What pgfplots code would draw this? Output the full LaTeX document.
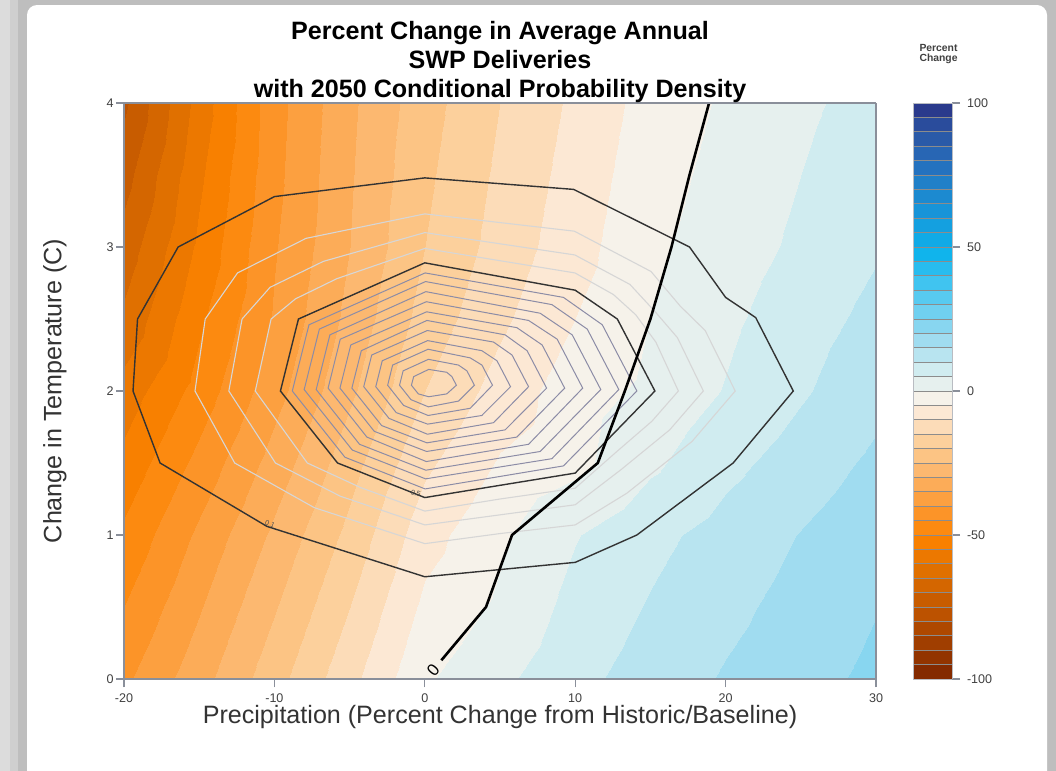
\documentclass[border=0pt]{standalone}
\usepackage{fontspec}
\setmainfont{Liberation Sans}
\usepackage{pgfplots}
\pgfplotsset{compat=1.18}

\definecolor{frameA}{HTML}{DCDCDC}
\definecolor{frameB}{HTML}{CFCFCF}
\definecolor{frameC}{HTML}{BEBEBE}
\definecolor{axisgray}{HTML}{8A8F9A}
\definecolor{ticktext}{HTML}{404040}
\definecolor{dens}{HTML}{8C8CA6}
\definecolor{densout}{HTML}{D6D6D6}

% one colour per 5 % band, from -100 up to 100
\pgfplotsset{
  colormap={swp}{
    rgb255(0)=(132,42,0) rgb255(1)=(146,52,0) rgb255(2)=(160,62,0) rgb255(3)=(174,72,0)
    rgb255(4)=(188,82,0) rgb255(5)=(200,92,0) rgb255(6)=(212,102,0) rgb255(7)=(224,112,0)
    rgb255(8)=(236,120,0) rgb255(9)=(248,128,0) rgb255(10)=(252,138,16) rgb255(11)=(252,148,40)
    rgb255(12)=(252,160,64) rgb255(13)=(252,172,88) rgb255(14)=(252,184,112) rgb255(15)=(252,196,132)
    rgb255(16)=(252,208,156) rgb255(17)=(252,220,184) rgb255(18)=(252,232,212) rgb255(19)=(246,242,234)
    rgb255(20)=(230,240,238) rgb255(21)=(208,236,240) rgb255(22)=(184,228,240) rgb255(23)=(160,220,240)
    rgb255(24)=(136,214,240) rgb255(25)=(112,208,240) rgb255(26)=(88,202,240) rgb255(27)=(64,196,240)
    rgb255(28)=(40,188,238) rgb255(29)=(16,180,236) rgb255(30)=(16,170,230) rgb255(31)=(20,160,224)
    rgb255(32)=(24,148,216) rgb255(33)=(28,138,208) rgb255(34)=(32,128,200) rgb255(35)=(36,114,191)
    rgb255(36)=(40,102,180) rgb255(37)=(42,90,168) rgb255(38)=(42,76,156) rgb255(39)=(42,58,140)
    rgb255(40)=(42,58,140)
  },
}

\begin{document}
\begin{tikzpicture}
\useasboundingbox (0,0) rectangle (528bp,-385.5bp);
\begin{scope}
\clip (0,0) rectangle (528bp,-385.5bp);
\fill[frameA] (0,0) rectangle (528bp,-385.5bp);
\fill[frameB] (5bp,0) rectangle (528bp,-385.5bp);
\fill[frameC] (9bp,0) rectangle (528bp,-385.5bp);
\fill[white, rounded corners=5bp] (13.5bp,-2.5bp) rectangle (523.5bp,-400bp);
\end{scope}

\begin{axis}[
  at={(62bp,-339.5bp)}, anchor=south west,
  scale only axis, width=376bp, height=288bp,
  view={0}{90},
  xmin=-20, xmax=30, ymin=0, ymax=4,
  xtick={-20,-10,0,10,20,30}, ytick={0,1,2,3,4},
  tick align=outside, xtick pos=left, ytick pos=left,
  major tick length=4bp,
  axis line style={axisgray, line width=0.6bp},
  major tick style={axisgray, line width=0.6bp},
  tick label style={font=\fontsize{6.3}{7}\selectfont, text=ticktext},
  yticklabel style={inner sep=1bp},
  /pgf/number format/assume math mode=true,
  xlabel={Precipitation (Percent Change from Historic/Baseline)},
  ylabel={Change in Temperature (C)},
  label style={font=\fontsize{12.6}{14}\selectfont, text=black!80},
  xlabel style={at={(axis description cs:0.5,-0.066)}, anchor=center},
  ylabel style={at={(axis description cs:-0.0918,0.5)}, anchor=center},
  title={Percent Change in Average Annual\\SWP Deliveries\\with 2050 Conditional Probability Density},
  title style={font=\bfseries\fontsize{12.6}{14.5}\selectfont, align=center, at={(0.5,1)}, anchor=south, yshift=-9.3bp},
  colormap name=swp, colormap access=piecewise constant,
  point meta min=-100, point meta max=100,
  colorbar,
  colorbar style={
    at={(parent axis.north east)}, anchor=north west, xshift=10bp,
    width=19.5bp,
    ytick={-100,-50,0,50,100},
    minor ytick={-95,-90,...,95},
    yminorgrids=true,
    minor grid style={black!45, line width=0.35bp},
    minor tick length=0pt,
    major tick length=4bp,
    tick align=outside,
    ytick pos=right,
    yticklabel pos=right,
    axis line style={axisgray!60, line width=0.4bp},
    major tick style={axisgray, line width=0.6bp},
    yticklabel style={font=\fontsize{6.3}{7}\selectfont, text=ticktext},
    /pgf/number format/assume math mode=true,
    title={Percent\\Change},
    title style={font=\bfseries\fontsize{5.2}{5.2}\selectfont, text=black!75, align=center, at={(0.5,1)}, anchor=south, yshift=10.2bp, xshift=3bp},
  },
]
\addplot3[surf, shader=interp] table {
x y z
-20 0 -41
-15 0 -32
-10 0 -22
-5 0 -11.5
0 0 -0.6
5 0 3.9
10 0 8.6
15 0 12.2
20 0 15.5
25 0 18.3
30 0 21.1

-20 0.5 -45
-15 0.5 -35.5
-10 0.5 -25.5
-5 0.5 -15
0 0.5 -3.8
5 0.5 0.9
10 0.5 6.6
15 0.5 10.4
20 0.5 13.7
25 0.5 16.8
30 0.5 19.8

-20 1 -49
-15 1 -39
-10 1 -29
-5 1 -18.5
0 1 -7
5 1 -0.9
10 1 4.7
15 1 8.6
20 1 11.9
25 1 15.2
30 1 18.5

-20 1.5 -53.5
-15 1.5 -43.5
-10 1.5 -33
-5 1.5 -22
0 1.5 -11
5 1.5 -4.5
10 1.5 -1.4
15 1.5 4
20 1.5 8.6
25 1.5 12.3
30 1.5 16

-20 2 -58
-15 2 -48
-10 2 -37
-5 2 -26
0 2 -15
5 2 -8
10 2 -2.3
15 2 1.1
20 2 5.3
25 2 9.4
30 2 13.4

-20 2.5 -64
-15 2.5 -51
-10 2.5 -39.5
-5 2.5 -28.5
0 2.5 -18
5 2.5 -11
10 2.5 -5
15 2.5 0
20 2.5 4
25 2.5 7.8
30 2.5 11.4

-20 3 -68
-15 3 -54
-10 3 -40.5
-5 3 -30
0 3 -20
5 3 -13
10 3 -7
15 3 -1
20 3 2.5
25 3 6
30 3 9.5

-20 3.5 -72
-15 3.5 -56
-10 3.5 -41.5
-5 3.5 -30.5
0 3.5 -21
5 3.5 -14
10 3.5 -8
15 3.5 -2
20 3.5 1.6
25 3.5 5
30 3.5 8.2

-20 4 -76
-15 4 -58
-10 4 -42
-5 4 -31
0 4 -22
5 4 -15
10 4 -9
15 4 -3
20 4 0.7
25 4 4
30 4 7
};
% density contours between the two labelled ones
\addplot3[densout, line width=0.55bp] coordinates {
(0,1.166,0) (5,1.25,0) (10,1.325,0) (12.77,1.58,0) (15.1,1.79,0) (16.86,2.0,0) (15.36,2.34,0)
(14.02,2.53,0) (12.54,2.67,0) (9.98,2.82,0) (0,2.99,0) (-5.85,2.78,0) (-8.6,2.64,0) (-10.22,2.5,0)
(-11.27,2.0,0) (-7.81,1.5,0) (-4.28,1.33,0) (0,1.166,0)
};
\addplot3[densout, line width=0.55bp] coordinates {
(0,1.07,0) (5,1.14,0) (10,1.21,0) (13.06,1.455,0) (16.28,1.73,0) (18.52,2.0,0) (16.8,2.37,0)
(15.32,2.55,0) (13.64,2.74,0) (9.97,2.945,0) (0,3.10,0) (-6.75,2.90,0) (-10.29,2.72,0) (-12.15,2.5,0)
(-13.03,2.0,0) (-9.93,1.5,0) (-5.63,1.27,0) (0,1.07,0)
};
\addplot3[densout, line width=0.55bp] coordinates {
(0,0.94,0) (5,1.01,0) (10,1.07,0) (13.43,1.29,0) (17.77,1.65,0) (20.64,2.0,0) (18.64,2.42,0)
(16.98,2.59,0) (15.04,2.83,0) (9.94,3.11,0) (0,3.23,0) (-7.9,3.06,0) (-12.45,2.82,0) (-14.6,2.5,0)
(-15.28,2.0,0) (-12.64,1.5,0) (-7.35,1.19,0) (0,0.94,0)
};
% density contours inside the inner labelled one
\addplot3[dens, line width=0.5bp] coordinates {
(0.02,1.32,0) (9.22,1.48,0) (14.1,2.0,0) (11.8,2.46,0) (9.22,2.65,0) (0.02,2.82,0) (-7.7,2.46,0) (-8.81,2.0,0) (-5.31,1.54,0) (0.02,1.32,0)
};
\addplot3[dens, line width=0.5bp] coordinates {
(0.05,1.39,0) (8.45,1.53,0) (12.9,2.01,0) (10.8,2.43,0) (8.45,2.60,0) (0.05,2.76,0) (-7.01,2.43,0) (-8.02,2.01,0) (-4.82,1.59,0) (0.05,1.39,0)
};
\addplot3[dens, line width=0.5bp] coordinates {
(0.07,1.45,0) (7.67,1.58,0) (11.7,2.01,0) (9.8,2.39,0) (7.67,2.54,0) (0.07,2.69,0) (-6.31,2.39,0) (-7.22,2.01,0) (-4.34,1.63,0) (0.07,1.45,0)
};
\addplot3[dens, line width=0.5bp] coordinates {
(0.1,1.51,0) (6.9,1.63,0) (10.5,2.02,0) (8.8,2.36,0) (6.9,2.49,0) (0.1,2.62,0) (-5.62,2.36,0) (-6.43,2.02,0) (-3.85,1.68,0) (0.1,1.51,0)
};
\addplot3[dens, line width=0.5bp] coordinates {
(0.12,1.58,0) (6.12,1.68,0) (9.3,2.02,0) (7.8,2.32,0) (6.12,2.44,0) (0.12,2.55,0) (-4.92,2.32,0) (-5.64,2.02,0) (-3.36,1.72,0) (0.12,1.58,0)
};
\addplot3[dens, line width=0.5bp] coordinates {
(0.14,1.64,0) (5.34,1.73,0) (8.1,2.02,0) (6.8,2.28,0) (5.34,2.39,0) (0.14,2.49,0) (-4.22,2.28,0) (-4.85,2.02,0) (-2.87,1.76,0) (0.14,1.64,0)
};
\addplot3[dens, line width=0.5bp] coordinates {
(0.17,1.70,0) (4.57,1.78,0) (6.9,2.03,0) (5.8,2.25,0) (4.57,2.34,0) (0.17,2.42,0) (-3.53,2.25,0) (-4.06,2.03,0) (-2.38,1.81,0) (0.17,1.70,0)
};
\addplot3[dens, line width=0.5bp] coordinates {
(0.19,1.77,0) (3.79,1.83,0) (5.7,2.03,0) (4.8,2.21,0) (3.79,2.28,0) (0.19,2.35,0) (-2.83,2.21,0) (-3.26,2.03,0) (-1.9,1.85,0) (0.19,1.77,0)
};
\addplot3[dens, line width=0.5bp] coordinates {
(0.22,1.83,0) (3.02,1.88,0) (4.5,2.04,0) (3.8,2.18,0) (3.02,2.23,0) (0.22,2.29,0) (-2.14,2.18,0) (-2.47,2.04,0) (-1.41,1.90,0) (0.22,1.83,0)
};
\addplot3[dens, line width=0.5bp] coordinates {
(0.24,1.89,0) (2.24,1.93,0) (3.3,2.04,0) (2.8,2.14,0) (2.24,2.18,0) (0.24,2.22,0) (-1.44,2.14,0) (-1.68,2.04,0) (-0.92,1.94,0) (0.24,1.89,0)
};
\addplot3[dens, line width=0.5bp] coordinates {
(0.26,1.96,0) (1.46,1.98,0) (2.1,2.04,0) (1.8,2.10,0) (1.46,2.13,0) (0.26,2.15,0) (-0.74,2.10,0) (-0.89,2.04,0) (-0.43,1.98,0) (0.26,1.96,0)
};
% outer density contour
\addplot3[black!80, line width=0.7bp] coordinates {
(0,0.71,0) (5,0.76,0) (10,0.81,0) (14.1,1.0,0) (20.5,1.5,0) (24.5,2.0,0) (22,2.51,0) (20,2.65,0)
(17.6,3.0,0) (9.9,3.4,0) (0,3.48,0) (-10,3.35,0) (-16.4,3.0,0) (-19.1,2.5,0) (-19.4,2.0,0)
(-17.6,1.5,0) (-10.5,1.06,0) (0,0.71,0)
};
% inner density contour
\addplot3[black!80, line width=0.7bp] coordinates {
(0,1.26,0) (10,1.43,0) (15.3,2.0,0) (12.8,2.5,0) (10,2.7,0) (0,2.89,0) (-8.4,2.5,0)
(-9.6,2.0,0) (-5.8,1.5,0) (0,1.26,0)
};
% zero change line
\addplot3[black, line width=1.3bp] coordinates {
(1.1,0.13,0) (4.07,0.5,0) (5.8,1.0,0) (11.5,1.5,0) (13.3,2.0,0) (15,2.5,0) (16.4,3.0,0) (17.6,3.5,0) (18.9,4.0,0)
};
\node[rotate=50, font=\fontsize{8.5}{8.5}\selectfont] at (axis cs:0.55,0.06,0) {0};
\node[rotate=-24, font=\fontsize{3.6}{3.6}\selectfont, text=black!70, inner sep=0.5bp] at (axis cs:-10.3,1.075,0) {0.1};
\node[rotate=-18, font=\fontsize{3.6}{3.6}\selectfont, text=black!70, inner sep=0.5bp] at (axis cs:-0.6,1.29,0) {0.5};
\end{axis}
\end{tikzpicture}
\end{document}
